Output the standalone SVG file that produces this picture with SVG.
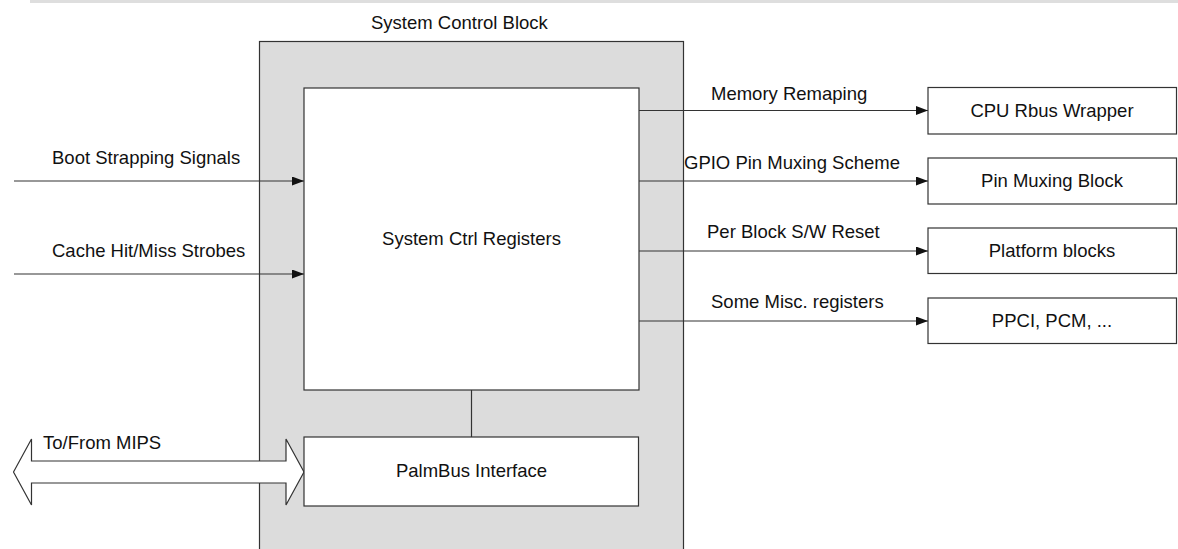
<svg xmlns="http://www.w3.org/2000/svg" width="1178" height="549" viewBox="0 0 1178 549">
<style>
text{font-family:"Liberation Sans",Arial,sans-serif;font-size:18.5px;fill:#111}
.c{text-anchor:middle}
.box{fill:#fff;stroke:#333;stroke-width:1.2}
.ln{stroke:#333;stroke-width:1.2;fill:none}
</style>
<defs>
<marker id="ah" markerUnits="userSpaceOnUse" markerWidth="13" markerHeight="10" refX="12" refY="4.5" orient="auto">
<path d="M0,0 L12,4.5 L0,9 Z" fill="#111"/>
</marker>
</defs>
<rect x="30" y="0" width="1148" height="3" fill="#dedede"/>
<g id="system-control-block">
<rect x="259.5" y="41.5" width="424" height="530" fill="#dcdcdc" stroke="#333" stroke-width="1.2"/>
<text x="371" y="29">System Control Block</text>
</g>
<g id="connectors">
<line class="ln" x1="471.5" y1="390" x2="471.5" y2="437"/>
<line class="ln" x1="14" y1="181" x2="304" y2="181" marker-end="url(#ah)"/>
<line class="ln" x1="14" y1="274" x2="304" y2="274" marker-end="url(#ah)"/>
<line class="ln" x1="639" y1="110.5" x2="928" y2="110.5" marker-end="url(#ah)"/>
<line class="ln" x1="639" y1="181" x2="928" y2="181" marker-end="url(#ah)"/>
<line class="ln" x1="639" y1="251" x2="928" y2="251" marker-end="url(#ah)"/>
<line class="ln" x1="639" y1="321" x2="928" y2="321" marker-end="url(#ah)"/>
<polygon points="13.5,472 31.5,439 31.5,461 286,461 286,439 304,472 286,505 286,483 31.5,483 31.5,505" fill="#fff" stroke="#333" stroke-width="1.2"/>
<text x="52" y="164">Boot Strapping Signals</text>
<text x="52" y="257">Cache Hit/Miss Strobes</text>
<text x="43" y="449">To/From MIPS</text>
<text x="711" y="100">Memory Remaping</text>
<text x="684" y="169">GPIO Pin Muxing Scheme</text>
<text x="707" y="238">Per Block S/W Reset</text>
<text x="711" y="308">Some Misc. registers</text>
</g>
<g id="system-ctrl-registers">
<rect class="box" x="304" y="88" width="335" height="302"/>
<text class="c" x="471.5" y="245">System Ctrl Registers</text>
</g>
<g id="palmbus-interface">
<rect class="box" x="304" y="437" width="334.5" height="69"/>
<text class="c" x="471.5" y="477">PalmBus Interface</text>
</g>
<g id="cpu-rbus-wrapper">
<rect class="box" x="928" y="87.5" width="248.5" height="46.5"/>
<text class="c" x="1052" y="117">CPU Rbus Wrapper</text>
</g>
<g id="pin-muxing-block">
<rect class="box" x="928" y="158" width="248.5" height="46"/>
<text class="c" x="1052" y="187">Pin Muxing Block</text>
</g>
<g id="platform-blocks">
<rect class="box" x="928" y="228" width="248.5" height="45.5"/>
<text class="c" x="1052" y="257">Platform blocks</text>
</g>
<g id="ppci-pcm">
<rect class="box" x="928" y="298" width="248.5" height="45.5"/>
<text class="c" x="1052" y="327">PPCI, PCM, ...</text>
</g>
</svg>
